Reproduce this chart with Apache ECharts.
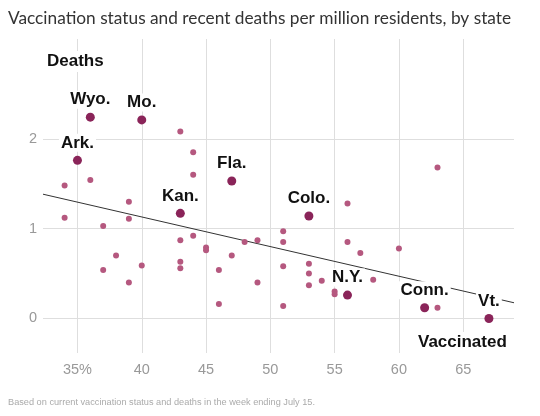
<!DOCTYPE html>
<html>
<head>
<meta charset="utf-8">
<script src="https://cdn.jsdelivr.net/npm/echarts@6/dist/echarts.min.js"></script>
<style>
html,body{margin:0;padding:0;background:#fff;}
#chart{width:540px;height:416px;}
</style>
</head>
<body>
<div id="chart"></div>
<script>
// Labelled (highlighted) states
const hlStates = ['Wyo.', 'Mo.', 'Ark.', 'Kan.', 'Fla.', 'Colo.', 'N.Y.', 'Conn.', 'Vt.'];
const hlVaccinated = [36, 40, 35, 43, 47, 53, 56, 62, 67];
const hlDeaths = [2.24, 2.21, 1.76, 1.17, 1.53, 1.14, 0.26, 0.12, 0.0];

// Other states
const otherVaccinated = [43, 44, 44, 34, 36, 39, 34, 39, 37, 56, 63, 56, 57, 60, 38, 37, 40, 39, 43, 44, 43, 43, 45, 45, 46, 46, 47, 48, 49, 49, 51, 51, 51, 51, 53, 53, 53, 54, 55, 55, 58, 63];
const otherDeaths = [2.08, 1.85, 1.60, 1.48, 1.54, 1.30, 1.12, 1.11, 1.03, 1.28, 1.68, 0.85, 0.73, 0.78, 0.70, 0.54, 0.59, 0.40, 0.87, 0.92, 0.63, 0.56, 0.79, 0.76, 0.54, 0.16, 0.70, 0.85, 0.87, 0.40, 0.97, 0.85, 0.58, 0.14, 0.61, 0.50, 0.37, 0.42, 0.30, 0.27, 0.43, 0.12];

// Trend line end points
const trendX = [32.32, 68.95];
const trendY = [1.383, 0.175];

const xTicks = [35, 40, 45, 50, 55, 60, 65];
const yTicks = [0, 1, 2];

const chart = echarts.init(document.getElementById('chart'));
const F = 'Liberation Sans, Arial, sans-serif';
const xGridColors = ['rgba(0,0,0,0)'].concat(xTicks.map(() => '#dedede')).concat(['rgba(0,0,0,0)']);
const yGridColors = ['rgba(0,0,0,0)'].concat(yTicks.map(() => '#dedede')).concat(['rgba(0,0,0,0)', 'rgba(0,0,0,0)', 'rgba(0,0,0,0)']);

chart.setOption({
  animation: false,
  backgroundColor: '#fff',
  title: [{
    text: 'Vaccination status and recent deaths per million residents, by state',
    left: 3, top: 5,
    textStyle: {fontFamily: 'Lato, sans-serif', fontSize: 17.3, fontWeight: 'normal', color: '#333'}
  }, {
    text: 'Based on current vaccination status and deaths in the week ending July 15.',
    left: 3, top: 393,
    textStyle: {fontFamily: F, fontSize: 9.2, fontWeight: 'normal', color: '#aaa'}
  }],
  grid: {left: 43, right: 26, top: 39, bottom: 63},
  xAxis: {
    type: 'value', min: 32.32, max: 68.95, splitNumber: 7,
    axisLine: {show: false}, axisTick: {show: false},
    axisLabel: {
      showMinLabel: false, showMaxLabel: false, margin: 9,
      fontFamily: F, fontSize: 14.5, color: '#999',
      formatter: v => xTicks.includes(v) ? (v === 35 ? v + '%' : String(v)) : ''
    },
    splitLine: {show: true, lineStyle: {color: xGridColors, width: 1}}
  },
  yAxis: {
    type: 'value', min: -0.384, max: 3.11, splitNumber: 3,
    axisLine: {show: false}, axisTick: {show: false},
    axisLabel: {
      showMinLabel: false, showMaxLabel: false, margin: 6,
      fontFamily: F, fontSize: 14.5, color: '#999',
      formatter: v => yTicks.includes(v) ? String(v) : ''
    },
    splitLine: {show: true, lineStyle: {color: yGridColors, width: 1}}
  },
  series: [{
    type: 'line',
    data: trendX.map((x, i) => [x, trendY[i]]),
    showSymbol: false, symbol: 'none',
    lineStyle: {color: '#333', width: 1},
    z: 1, silent: true
  }, {
    type: 'scatter',
    data: otherVaccinated.map((x, i) => [x, otherDeaths[i]]),
    symbolSize: 6,
    itemStyle: {color: '#b5587f', opacity: 1},
    z: 3
  }, {
    type: 'scatter',
    data: hlVaccinated.map((x, i) => ({value: [x, hlDeaths[i]], name: hlStates[i]})),
    symbolSize: 9,
    itemStyle: {color: '#8a2459', opacity: 1},
    label: {
      show: true, position: 'top', distance: 4,
      formatter: p => p.name,
      fontFamily: F, fontSize: 17, fontWeight: 'bold', color: '#111',
      backgroundColor: '#fff', padding: [0, 2], lineHeight: 18
    },
    z: 4
  }],
  graphic: [{
    type: 'text', left: 45, top: 51, z: 10,
    style: {text: 'Deaths', font: 'bold 17px ' + F, fill: '#111', backgroundColor: '#fff', padding: [2, 2]}
  }, {
    type: 'text', left: 416, top: 332, z: 10,
    style: {text: 'Vaccinated', font: 'bold 17px ' + F, fill: '#111', backgroundColor: '#fff', padding: [2, 2, 12, 2]}
  }]
});
</script>
</body>
</html>
